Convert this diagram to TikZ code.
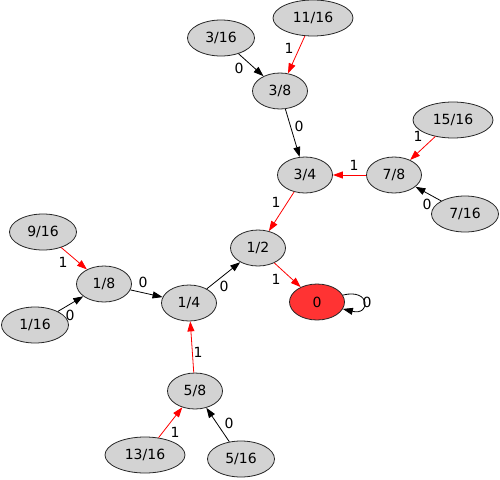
\documentclass[tikz,border=0pt]{standalone}
\usepackage{fontspec}
\setmainfont{DejaVu Sans}
\usetikzlibrary{shapes.geometric,arrows.meta}
\definecolor{stategray}{RGB}{211,211,211}
\definecolor{zerofill}{RGB}{255,51,51}
\definecolor{onered}{RGB}{255,0,0}

\begin{document}
\begin{tikzpicture}[x=1pt, y=-1pt,
    state/.style={ellipse, draw=black!85, line width=0.8pt, fill=stategray,
                  inner sep=0pt, minimum width=55pt, minimum height=36pt,
                  font=\fontsize{14}{16}\selectfont},
    statewide/.style={state, minimum width=67pt},
    statewider/.style={state, minimum width=80pt},
    zerostate/.style={state, fill=zerofill},
    edgebase/.style={line width=0.8pt, -{Triangle[length=10pt, width=7pt]}},
    zeroedge/.style={edgebase, color=black},
    oneedge/.style={edgebase, color=onered},
    lbl/.style={inner sep=0pt, text=black, font=\fontsize{14}{16}\selectfont},
]

\useasboundingbox (0,0) rectangle (500,479);

% ================================================================
% STATES
% ================================================================
\node[state]      (n1o2)   at (258,248) {1/2};
\node[zerostate]  (n0)     at (317,302) {0};
\node[state]      (n3o4)   at (305,175) {3/4};
\node[state]      (n7o8)   at (394,175) {7/8};
\node[state]      (n3o8)   at (280,91)  {3/8};
\node[statewide]  (n3o16)  at (221,38)  {3/16};
\node[statewider] (n11o16) at (313,18)  {11/16};
\node[statewider] (n15o16) at (453,120) {15/16};
\node[statewide]  (n7o16)  at (465,214) {7/16};
\node[statewide]  (n9o16)  at (43,232)  {9/16};
\node[state]      (n1o8)   at (104,284) {1/8};
\node[statewide]  (n1o16)  at (35,325)  {1/16};
\node[state]      (n1o4)   at (189,303) {1/4};
\node[state]      (n5o8)   at (195,391) {5/8};
\node[statewider] (n13o16) at (145,455) {13/16};
\node[statewide]  (n5o16)  at (241,459) {5/16};

% ================================================================
% TRANSITIONS (black = 0, red = 1)
% ================================================================
\draw[zeroedge] (n3o16)  -- (n3o8)  node[lbl] at (239,68)  {0};
\draw[oneedge]  (n11o16) -- (n3o8)  node[lbl] at (289,48)  {1};
\draw[zeroedge] (n3o8)   -- (n3o4)  node[lbl] at (299,126) {0};
\draw[oneedge]  (n15o16) -- (n7o8)  node[lbl] at (418,136) {1};
\draw[zeroedge] (n7o16)  -- (n7o8)  node[lbl] at (427,204) {0};
\draw[oneedge]  (n7o8)   -- (n3o4)  node[lbl] at (354,165) {1};
\draw[oneedge]  (n3o4)   -- (n1o2)  node[lbl] at (276,202) {1};
\draw[oneedge]  (n9o16)  -- (n1o8)  node[lbl] at (63,262)  {1};
\draw[zeroedge] (n1o16)  -- (n1o8)  node[lbl] at (70,315)  {0};
\draw[zeroedge] (n1o8)   -- (n1o4)  node[lbl] at (143,282) {0};
\draw[zeroedge] (n1o4)   -- (n1o2)  node[lbl] at (224,286) {0};
\draw[oneedge]  (n5o8)   -- (n1o4)  node[lbl] at (198,352) {1};
\draw[oneedge]  (n13o16) -- (n5o8)  node[lbl] at (175,432) {1};
\draw[zeroedge] (n5o16)  -- (n5o8)  node[lbl] at (229,423) {0};
\draw[oneedge]  (n1o2)   -- (n0)    node[lbl] at (276,279) {1};

% self loop on 0
\draw[zeroedge] (n0.15) .. controls +(28,-7) and +(28,7) .. (n0.-15)
  node[lbl] at (367,302) {0};

\end{tikzpicture}
\end{document}
